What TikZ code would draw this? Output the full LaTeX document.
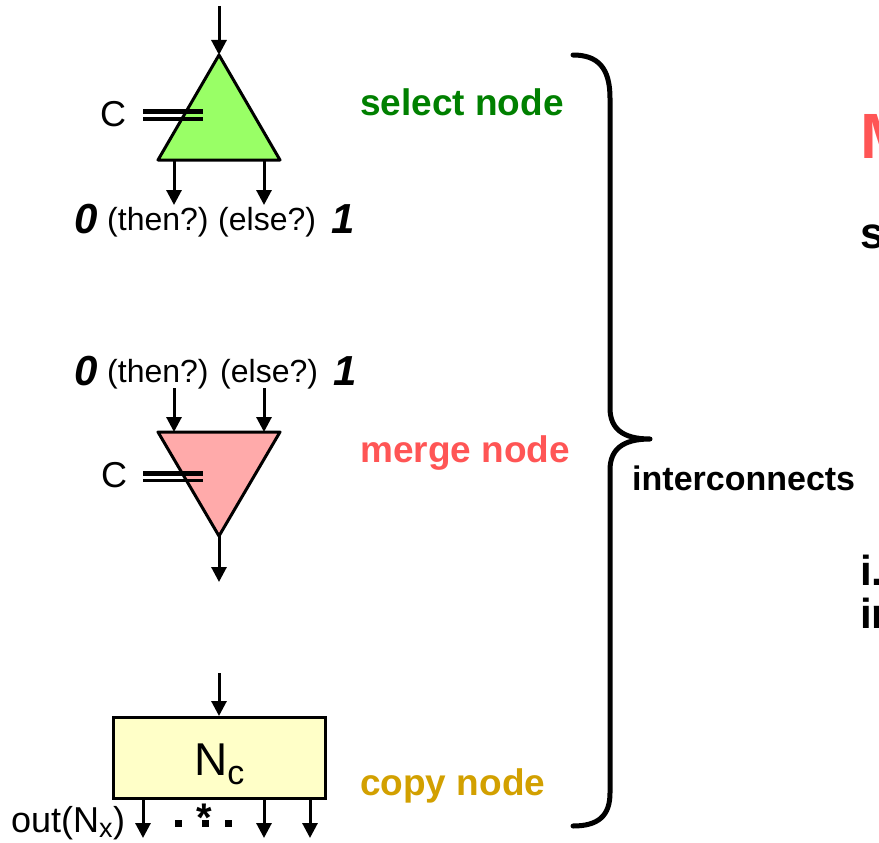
\documentclass[tikz,border=0pt]{standalone}
\usepackage{fontspec}
\setmainfont{Liberation Sans}
\usetikzlibrary{arrows.meta}
\definecolor{selfill}{RGB}{153,255,102}
\definecolor{mrgfill}{RGB}{255,170,170}
\definecolor{cpyfill}{RGB}{255,255,200}
\definecolor{selgreen}{RGB}{0,128,0}
\definecolor{mrgred}{RGB}{255,85,85}
\definecolor{cpygold}{RGB}{210,160,0}
\tikzset{
  wire/.style={line width=3pt,-{Triangle[width=15pt,length=15pt]}},
  shapebd/.style={draw,line width=3pt,line join=round},
  ctrlthick/.style={line width=5pt},
  ctrlthin/.style={line width=3pt},
  txt/.style={inner sep=0pt,anchor=base west},
  lbl/.style={txt,font=\fontsize{32}{35}\selectfont},
  ctrl/.style={txt,font=\fontsize{36}{40}\selectfont},
  bigdigit/.style={txt,font=\fontsize{42}{46}\selectfont\bfseries\itshape},
  kind/.style={txt,font=\fontsize{37}{40}\selectfont\bfseries},
}
\begin{document}
\begin{tikzpicture}[x=1pt,y=-1pt]
\useasboundingbox (0,0) rectangle (879,843);
\clip (0,0) rectangle (879,843);

% ---------- select node ----------
\coordinate (selApex) at (219,55);
\coordinate (selL) at (158,160);
\coordinate (selR) at (280,160);
\filldraw[shapebd,fill=selfill] (selApex) -- (selR) -- (selL) -- cycle;
\coordinate (selIn) at (219,6);
\draw[wire] (selIn) -- (selApex);
\coordinate (selA0) at (174,160);
\coordinate (selB0) at (174,205);
\coordinate (selA1) at (264,160);
\coordinate (selB1) at (264,205);
\draw[wire] (selA0) -- (selB0);
\draw[wire] (selA1) -- (selB1);
\coordinate (selCa) at (143,111.5);
\coordinate (selCb) at (203,111.5);
\coordinate (selCc) at (143,119);
\coordinate (selCd) at (203,119);
\draw[ctrlthick] (selCa) -- (selCb);
\draw[ctrlthin] (selCc) -- (selCd);
\node[ctrl] (selC) at (100,127) {C};
\node[bigdigit] (selZero) at (74,233) {0};
\node[lbl] (selThen) at (107,230) {(then?)};
\node[lbl] (selElse) at (218,230) {(else?)};
\node[bigdigit] (selOne) at (331,233) {1};
\node[kind,text=selgreen] (selName) at (360,115) {select node};

% ---------- merge node ----------
\node[bigdigit] (mrgZero) at (74,385) {0};
\node[lbl] (mrgThen) at (107,382) {(then?)};
\node[lbl] (mrgElse) at (220,382) {(else?)};
\node[bigdigit] (mrgOne) at (333,385) {1};
\coordinate (mrgL) at (158,432);
\coordinate (mrgR) at (280,432);
\coordinate (mrgApex) at (219,536);
\filldraw[shapebd,fill=mrgfill] (mrgL) -- (mrgR) -- (mrgApex) -- cycle;
\coordinate (mrgS0) at (174,388);
\coordinate (mrgE0) at (174,432);
\coordinate (mrgS1) at (264,388);
\coordinate (mrgE1) at (264,432);
\draw[wire] (mrgS0) -- (mrgE0);
\draw[wire] (mrgS1) -- (mrgE1);
\coordinate (mrgOut) at (219,582);
\draw[wire] (mrgApex) -- (mrgOut);
\coordinate (mrgCa) at (143,473);
\coordinate (mrgCb) at (203,473);
\coordinate (mrgCc) at (143,480);
\coordinate (mrgCd) at (203,480);
\draw[ctrlthick] (mrgCa) -- (mrgCb);
\draw[ctrlthin] (mrgCc) -- (mrgCd);
\node[ctrl] (mrgC) at (101,487) {C};
\node[kind,text=mrgred] (mrgName) at (360,462) {merge node};

% ---------- copy node ----------
\node[draw,line width=3pt,fill=cpyfill,minimum width=212pt,minimum height=81pt,inner sep=0pt]
  (cpy) at (219,758) {};
\node[txt,font=\fontsize{46}{50}\selectfont] (cpyN) at (194,775) {N\textsubscript{\fontsize{34}{36}\selectfont c}};
\coordinate (cpyIn) at (219,673);
\draw[wire] (cpyIn) -- (cpy.north);
\coordinate (cpyO1) at (143,838);
\coordinate (cpyO2) at (264,838);
\coordinate (cpyO3) at (310,838);
\draw[wire] (cpy.south -| cpyO1) -- (cpyO1);
\draw[wire] (cpy.south -| cpyO2) -- (cpyO2);
\draw[wire] (cpy.south -| cpyO3) -- (cpyO3);
\fill (175,820) rectangle (182,827);
\fill (202,820) rectangle (209,827);
\fill (225,820) rectangle (232,827);
\node[txt,font=\fontsize{40}{44}\selectfont\bfseries] (cpyStar) at (196,831) {*};
\node[txt,font=\fontsize{36}{38}\selectfont] (cpyOut) at (11,832) {out(N\textsubscript{\fontsize{27}{28}\selectfont x})};
\node[kind,text=cpygold] (cpyName) at (360,795) {copy node};

% ---------- grouping brace ----------
\coordinate (brTop) at (573,55);
\coordinate (brTip) at (650,439);
\coordinate (brBot) at (573,826);
\draw[line width=5pt,line cap=round,line join=round]
  (brTop) .. controls (598,55) and (610,68) .. (610,98)
  -- (610,408) .. controls (610,428) and (622,439) .. (brTip)
  .. controls (622,439) and (610,450) .. (610,470)
  -- (610,793) .. controls (610,816) and (598,826) .. (brBot);
\node[txt,font=\fontsize{34}{38}\selectfont\bfseries] (inter) at (632,490) {interconnects};

% ---------- text running off the right edge ----------
\node[txt,font=\fontsize{64}{70}\selectfont\bfseries,text=mrgred] (rtM) at (860,158) {M};
\node[txt,font=\fontsize{44}{48}\selectfont\bfseries] (rtS) at (860,248) {s};
\node[txt,font=\fontsize{42}{46}\selectfont\bfseries] (rtIe) at (860,585) {i.};
\node[txt,font=\fontsize{42}{46}\selectfont\bfseries] (rtIn) at (860,628) {in};
\end{tikzpicture}
\end{document}
